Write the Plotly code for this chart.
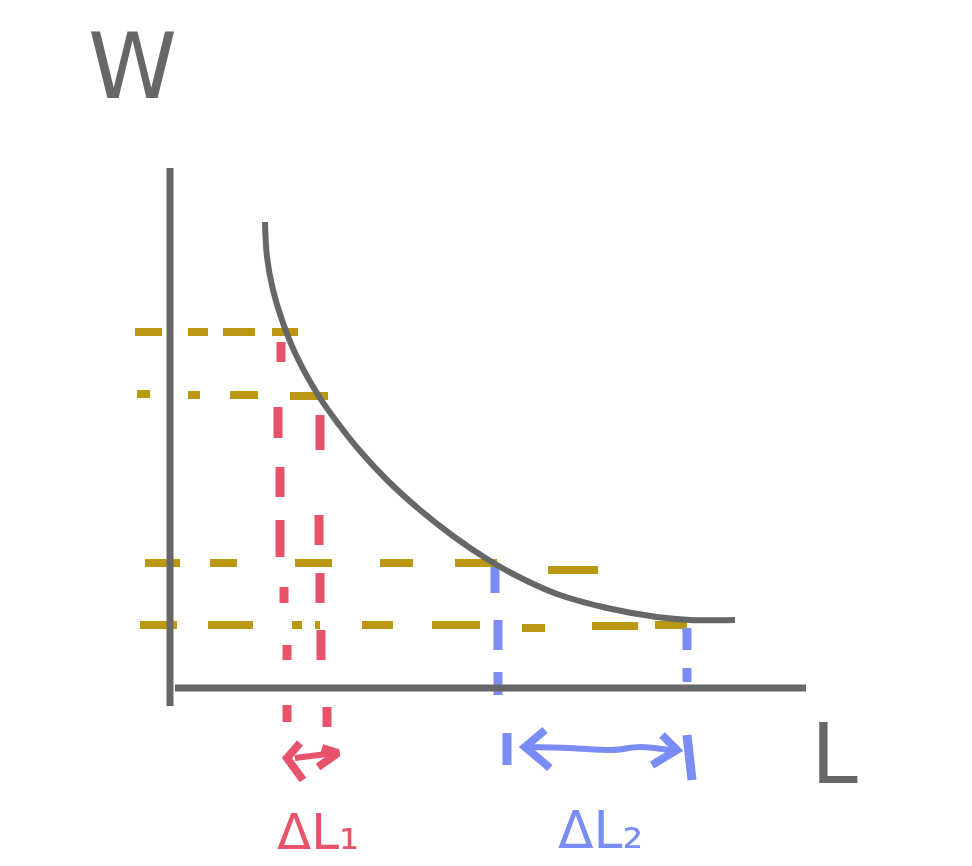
import plotly.graph_objects as go

# Chart units: L (horizontal), W (vertical); origin at the axes corner.
GRAY = "#676767"
GOLD = "#BB9812"
RED = "#E9526B"
BLUE = "#7A8CF6"

# Axes
axis_v_L = [-2, -2]
axis_v_W = [520, -18]
axis_h_L = [3, 634]
axis_h_W = [0, 0]

# Hand-drawn curve W(L)
curve_L = [93, 95, 101, 111, 125, 148, 168, 188, 215, 248, 281, 315, 345, 385, 435, 485, 518, 563]
curve_W = [466, 431, 398, 365, 331, 290, 262, 237, 208, 178, 152, 129, 112, 94, 80, 71, 68, 68]

# Gold horizontal dashed guides: dash starts/ends along L, level W per dash
gold1_L0 = [-37, 16, 51, 100]
gold1_L1 = [-10, 36, 83, 126]
gold1_W = [356, 356, 356, 356]
gold2_L0 = [-35, 16, 58, 118]
gold2_L1 = [-22, 28, 86, 156]
gold2_W = [294, 293, 293, 292]
gold3_L0 = [-27, 38, 123, 208, 283, 376]
gold3_L1 = [8, 65, 160, 241, 325, 426]
gold3_W = [125, 125, 125, 125, 125, 118]
gold4_L0 = [-32, 36, 120, 143, 190, 260, 350, 420, 483]
gold4_L1 = [5, 81, 130, 148, 221, 308, 373, 466, 515]
gold4_W = [63, 63, 63, 63, 63, 63, 60, 62, 63]

# Red vertical dashed guides: dash starts/ends along W, position L per dash
red1_W0 = [346, 281, 221, 168, 101, 43, -17]
red1_W1 = [326, 250, 191, 131, 85, 28, -34]
red1_L = [109, 106, 108, 108, 112, 115, 115]
red2_W0 = [273, 173, 115, 58, -19]
red2_W1 = [238, 143, 85, 28, -39]
red2_L = [148, 147, 148, 149, 155]

# Blue vertical dashed guides
blue1_W0 = [121, 68, 16]
blue1_W1 = [95, 38, -7]
blue1_L = [323, 326, 326]
blue2_W0 = [60, 20]
blue2_W1 = [38, 6]
blue2_L = [515, 515]

# Red double arrow (ΔL1)
red_arrow_left_L = [128, 115, 131]
red_arrow_left_W = [-55, -70, -92]
red_shaft_L = [123, 163]
red_shaft_W = [-70, -65]
red_arrow_right_L = [150, 166, 146]
red_arrow_right_W = [-60, -65, -79]

# Blue double arrow with end bars (ΔL2)
blue_bar_left_L = [335, 335]
blue_bar_left_W = [-45, -77]
blue_arrow_left_L = [373, 353, 378]
blue_arrow_left_W = [-42, -59, -80]
blue_shaft_L = [353, 398, 441, 468, 503]
blue_shaft_W = [-59, -60, -62, -59, -63]
blue_arrow_right_L = [490, 505, 480]
blue_arrow_right_W = [-47, -62, -77]
blue_bar_right_L = [515, 520]
blue_bar_right_W = [-47, -92]

# Labels
labels = ["W", "L", "ΔL₁", "ΔL₂"]
label_L = [-40, 662, 146, 428]
label_W = [622, -66, -144, -142]
label_color = [GRAY, GRAY, RED, BLUE]
label_size = [90, 84, 50, 52]


def h_segments(L0, L1, W):
    xs, ys = [], []
    for a, b, w in zip(L0, L1, W):
        xs += [a, b, None]
        ys += [w, w, None]
    return xs, ys


def v_segments(W0, W1, L):
    xs, ys = [], []
    for a, b, l in zip(W0, W1, L):
        xs += [l, l, None]
        ys += [a, b, None]
    return xs, ys


fig = go.Figure()


def add_line(x, y, color, width, shape="linear"):
    fig.add_trace(go.Scatter(x=x, y=y, mode="lines", hoverinfo="skip",
                             line=dict(color=color, width=width, shape=shape),
                             showlegend=False))


# gold guides (drawn first, under curve)
for L0, L1, W in [(gold1_L0, gold1_L1, gold1_W), (gold2_L0, gold2_L1, gold2_W),
                  (gold3_L0, gold3_L1, gold3_W), (gold4_L0, gold4_L1, gold4_W)]:
    x, y = h_segments(L0, L1, W)
    add_line(x, y, GOLD, 8)

for W0, W1, L, c in [(red1_W0, red1_W1, red1_L, RED), (red2_W0, red2_W1, red2_L, RED),
                     (blue1_W0, blue1_W1, blue1_L, BLUE), (blue2_W0, blue2_W1, blue2_L, BLUE)]:
    x, y = v_segments(W0, W1, L)
    add_line(x, y, c, 9)

# axes
add_line(axis_v_L, axis_v_W, GRAY, 7)
add_line(axis_h_L, axis_h_W, GRAY, 7)

# curve
add_line(curve_L, curve_W, GRAY, 6, "spline")

# arrows
add_line(red_arrow_left_L, red_arrow_left_W, RED, 8)
add_line(red_shaft_L, red_shaft_W, RED, 6)
add_line(red_arrow_right_L, red_arrow_right_W, RED, 8)
add_line(blue_bar_left_L, blue_bar_left_W, BLUE, 9)
add_line(blue_arrow_left_L, blue_arrow_left_W, BLUE, 8)
add_line(blue_shaft_L, blue_shaft_W, BLUE, 6, "spline")
add_line(blue_arrow_right_L, blue_arrow_right_W, BLUE, 8)
add_line(blue_bar_right_L, blue_bar_right_W, BLUE, 9)

for t, x, y, c, s in zip(labels, label_L, label_W, label_color, label_size):
    fig.add_annotation(x=x, y=y, text=t, showarrow=False,
                       font=dict(family="DejaVu Sans", size=s, color=c),
                       xanchor="center", yanchor="middle")

fig.update_layout(
    width=972, height=866,
    margin=dict(l=0, r=0, t=0, b=0),
    paper_bgcolor="white", plot_bgcolor="white",
    xaxis=dict(range=[-164, 808], visible=False, fixedrange=True),
    yaxis=dict(range=[-186, 680], visible=False, fixedrange=True),
    showlegend=False,
)

fig.write_html("out.html")
